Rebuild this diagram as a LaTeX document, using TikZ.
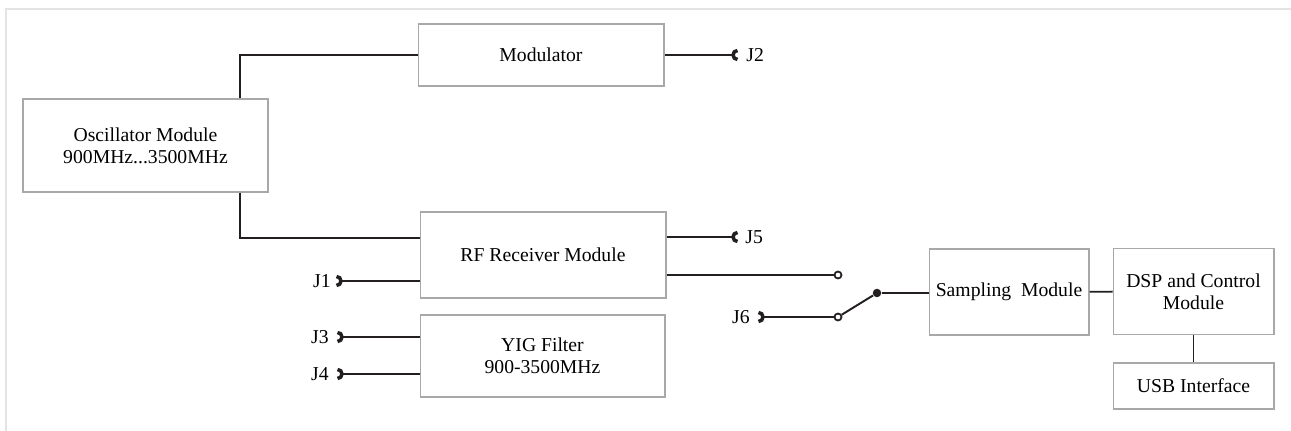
\documentclass[tikz,border=0pt]{standalone}
\usepackage{fontspec}
\setmainfont{Liberation Serif}
\usepackage{xcolor}
\usepackage{tikz}
\definecolor{boxgray}{HTML}{A8A8A8}
\definecolor{framegray}{HTML}{E4E4E4}
\definecolor{wirecol}{HTML}{231F20}

\begin{document}
\begin{tikzpicture}[x=0.02cm, y=-0.02cm,
    box/.style={rectangle, draw=boxgray, line width=0.6pt, inner sep=0pt, align=center, font=\fontsize{11.2}{12.4}\selectfont},
    wire/.style={draw=wirecol, line width=1.1pt},
    jack/.style={draw=wirecol, line width=2pt},
    lbl/.style={inner sep=0pt, font=\fontsize{11.2}{12.4}\selectfont},
    hole/.style={circle, draw=wirecol, line width=1pt, fill=white, minimum size=0.14cm, inner sep=0pt},
    pivot/.style={circle, fill=wirecol, minimum size=0.17cm, inner sep=0pt}
]
\useasboundingbox (0,0) rectangle (1291,431);
\draw[framegray, line width=1.2pt] (6,431) -- (6,9) -- (1291,9);

\node[box, minimum width=4.9cm, minimum height=1.86cm] (osc) at (145.5,145.5) {Oscillator Module\\900MHz...3500MHz};
\node[box, minimum width=4.92cm, minimum height=1.24cm] (mod) at (541,55) {Modulator};
\node[box, minimum width=4.92cm, minimum height=1.72cm] (rf) at (543,255) {RF Receiver Module};
\node[box, minimum width=4.9cm, minimum height=1.64cm] (yig) at (542.5,356) {YIG Filter\\900-3500MHz};
\node[box, minimum width=3.2cm, minimum height=1.72cm] (samp) at (1009,292) {Sampling\ \ Module};
\node[box, minimum width=3.22cm, minimum height=1.72cm] (dsp) at (1193.5,291.5) {DSP and Control\\Module};
\node[box, minimum width=3.22cm, minimum height=0.92cm] (usb) at (1193.5,386) {USB Interface};

% jacks
\coordinate (j2) at (733,55);
\coordinate (j5) at (733,237);
\coordinate (j1) at (341,281);
\coordinate (j3) at (342,337);
\coordinate (j4) at (342,374);
\coordinate (j6) at (763,317);
\node[lbl, anchor=west] (l2) at (746,55) {J2};
\node[lbl, anchor=west] (l5) at (745,237) {J5};
\node[lbl, anchor=east] (l1) at (331,281) {J1};
\node[lbl, anchor=east] (l3) at (329,337) {J3};
\node[lbl, anchor=east] (l4) at (329,374) {J4};
\node[lbl, anchor=east] (l6) at (750,317) {J6};
\foreach \j in {j2,j5}
  \draw[jack] (\j) ++(4.5,-4.5) arc[start angle=90, end angle=270, radius=0.09cm];
\foreach \j in {j1,j3,j4,j6}
  \draw[jack] (\j) ++(-4.5,-4.5) arc[start angle=90, end angle=-90, radius=0.09cm];

% switch
\node[hole] (sw1) at (838,275) {};
\node[hole] (sw2) at (838,317) {};
\node[pivot] (piv) at (877,293) {};

\draw[wire] ([xshift=1.89cm]osc.north) |- (mod.west);
\draw[wire] ([xshift=1.89cm]osc.south) |- ([yshift=0.34cm]rf.west);
\draw[wire] (mod.east) -- (j2);
\draw[wire] (rf.east |- j5) -- (j5);
\draw[wire] (j1) -- (j1 -| rf.west);
\draw[wire] (j3) -- (j3 -| yig.west);
\draw[wire] (j4) -- (j4 -| yig.west);
\draw[wire] (rf.east |- sw1) -- (sw1);
\draw[wire] (j6) -- (sw2);
\draw[wire] (sw2) -- (piv);
\draw[wire] (piv) -- (samp.west |- piv);
\draw[wire] (samp) -- (dsp);
\draw[wire] (dsp) -- (usb);
\end{tikzpicture}
\end{document}
